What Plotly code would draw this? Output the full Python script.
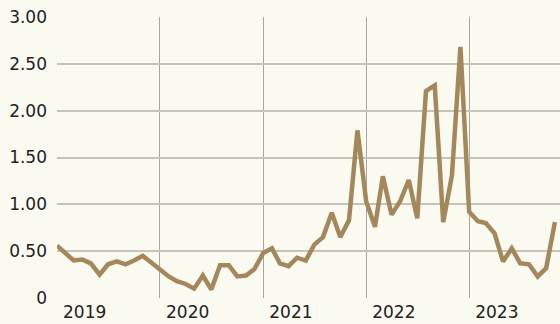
import pandas as pd
import plotly.graph_objects as go

# Monthly readings, Jan 2019 - Nov 2023
months = pd.date_range("2019-01-01", periods=59, freq="MS")
values = [
    0.56, 0.48, 0.40, 0.41, 0.37, 0.25, 0.36, 0.39, 0.36, 0.40, 0.45, 0.38,
    0.30, 0.23, 0.18, 0.15, 0.10, 0.24, 0.09, 0.35, 0.35, 0.23, 0.24, 0.31,
    0.48, 0.53, 0.37, 0.34, 0.43, 0.40, 0.57, 0.65, 0.91, 0.65, 0.83, 1.79,
    1.03, 0.76, 1.30, 0.89, 1.03, 1.26, 0.85, 2.21, 2.27, 0.81, 1.31, 2.68,
    0.92, 0.82, 0.80, 0.69, 0.39, 0.53, 0.37, 0.36, 0.23, 0.32, 0.81,
]

years = [2019, 2020, 2021, 2022, 2023]
y_ticks = [0, 0.5, 1.0, 1.5, 2.0, 2.5, 3.0]
y_labels = ["0", "0.50", "1.00", "1.50", "2.00", "2.50", "3.00"]

LINE = "#a4875a"
BG = "#fafaf1"
FONT = "DejaVu Sans"

year_starts = [pd.Timestamp(f"{y}-01-01") for y in years]
label_pos = [s + pd.Timedelta(days=98) for s in year_starts]

fig = go.Figure(
    go.Scatter(
        x=months, y=values, mode="lines",
        line=dict(color=LINE, width=4.5),
        hoverinfo="skip",
    )
)

fig.update_layout(
    width=560, height=324,
    margin=dict(l=57, r=0, t=17, b=26),
    paper_bgcolor=BG, plot_bgcolor=BG,
    showlegend=False,
    font=dict(family=FONT, size=17, color="#222222"),
)

fig.update_xaxes(
    type="date",
    range=[pd.Timestamp("2019-01-01"), pd.Timestamp("2023-11-19")],
    tickmode="array", tickvals=label_pos, ticktext=[str(y) for y in years],
    showgrid=False, zeroline=False, showline=False, ticks="",
    ticklabelstandoff=2,
    minor=dict(tickmode="array", tickvals=year_starts, showgrid=True,
               gridcolor="#a6a6a2", gridwidth=1, ticks=""),
)

fig.update_yaxes(
    range=[0, 3.0],
    tickmode="array", tickvals=y_ticks, ticktext=y_labels,
    showgrid=True, gridcolor="#c4c4bd", gridwidth=2,
    zeroline=False, showline=False, ticks="",
    ticklabelstandoff=9,
)

fig.write_html("out.html")
